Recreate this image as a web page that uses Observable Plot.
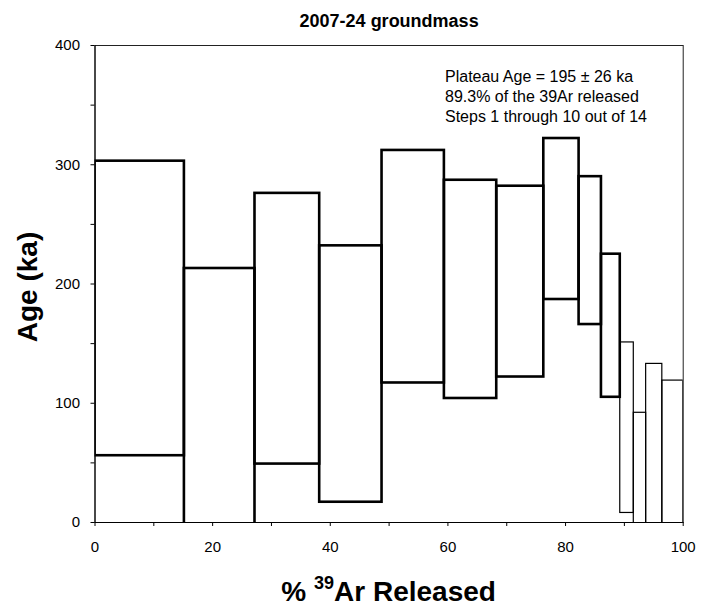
<!DOCTYPE html>
<html><head><meta charset="utf-8">
<script src="https://cdn.jsdelivr.net/npm/d3@7"></script>
<script src="https://cdn.jsdelivr.net/npm/@observablehq/plot@0.6"></script>
<style>body{margin:0;background:#fff}</style>
</head><body><div id="chart"></div>
<script>
// cumulative % 39Ar boundaries of the 14 heating steps
const stepEdges = [0, 15.2, 27.2, 38.2, 48.8, 59.4, 68.3, 76.3, 82.3, 86.1, 89.3, 91.6, 93.7, 96.45, 100];
// age (ka) top and bottom of each step box (±2σ)
const ageTop    = [303, 213, 276, 232, 312, 287, 282, 322, 290, 225, 151, 92, 133, 119];
const ageBottom = [56, -20, 49, 17, 117, 104, 122, 187, 166, 105, 8, -20, -20, -20];
const inPlateau = [true, true, true, true, true, true, true, true, true, true, false, false, false, false];
const xTicks = [0, 10, 20, 30, 40, 50, 60, 70, 80, 90, 100];
const yTicks = [0, 50, 100, 150, 200, 250, 300, 350, 400];
const noteLines = ["Plateau Age = 195 ± 26 ka", "89.3% of the 39Ar released", "Steps 1 through 10 out of 14"];
const titleText = "2007-24 groundmass";

const steps = ageTop.map((t, i) => ({x1: stepEdges[i], x2: stepEdges[i + 1], y1: ageBottom[i], y2: t, plateau: inPlateau[i]}));

const chart = Plot.plot({
  width: 701, height: 609,
  marginLeft: 94.5, marginRight: 18.3, marginTop: 45, marginBottom: 87,
  style: {fontFamily: "'Liberation Sans', Arial, sans-serif", fontSize: "15px", background: "white", color: "black"},
  x: {domain: [0, 100]},
  y: {domain: [0, 400]},
  marks: [
    Plot.frame({stroke: "#222", strokeWidth: 1}),
    Plot.rect(steps.filter(d => d.plateau), {x1: "x1", x2: "x2", y1: "y1", y2: "y2", fill: "none", stroke: "black", strokeWidth: 2.6, clip: true}),
    Plot.rect(steps.filter(d => !d.plateau), {x1: "x1", x2: "x2", y1: "y1", y2: "y2", fill: "none", stroke: "black", strokeWidth: 1.2, clip: true}),
    Plot.axisX({ticks: xTicks, tickSize: 4, tickPadding: 15, tickFormat: d => d % 20 === 0 ? String(d) : "", label: null, fontSize: 15}),
    Plot.axisY({ticks: yTicks, tickSize: 4, tickPadding: 11, tickFormat: d => d % 100 === 0 ? String(d) : "", label: null, fontSize: 15}),
    Plot.ruleX([0], {stroke: "black"}),
    Plot.ruleY([0], {stroke: "black"}),
    Plot.text([noteLines.join("\n")], {text: d => d, frameAnchor: "top-left", dx: 350, dy: 21.9, textAnchor: "start", lineAnchor: "top", lineHeight: 1.25, fontSize: 16, fill: "black"}),
    Plot.text([titleText], {text: d => d, frameAnchor: "top", dy: -18.3, lineAnchor: "bottom", fontWeight: "bold", fontSize: 18, fill: "black"})
  ]
});

const svg = d3.select(chart);
const xl = svg.append("text")
  .attr("x", 388.6).attr("y", 601)
  .attr("text-anchor", "middle")
  .attr("font-family", "'Liberation Sans', Arial, sans-serif")
  .attr("font-weight", "bold").attr("font-size", 28).attr("fill", "black");
xl.append("tspan").text("% ");
xl.append("tspan").attr("font-size", 18).attr("dy", -12).text("39");
xl.append("tspan").attr("dy", 12).text("Ar Released");

svg.append("text")
  .attr("transform", "translate(37,287) rotate(-90)")
  .attr("text-anchor", "middle")
  .attr("font-family", "'Liberation Sans', Arial, sans-serif")
  .attr("font-weight", "bold").attr("font-size", 28).attr("fill", "black")
  .text("Age (ka)");

document.getElementById("chart").appendChild(chart);
</script>
</body></html>
